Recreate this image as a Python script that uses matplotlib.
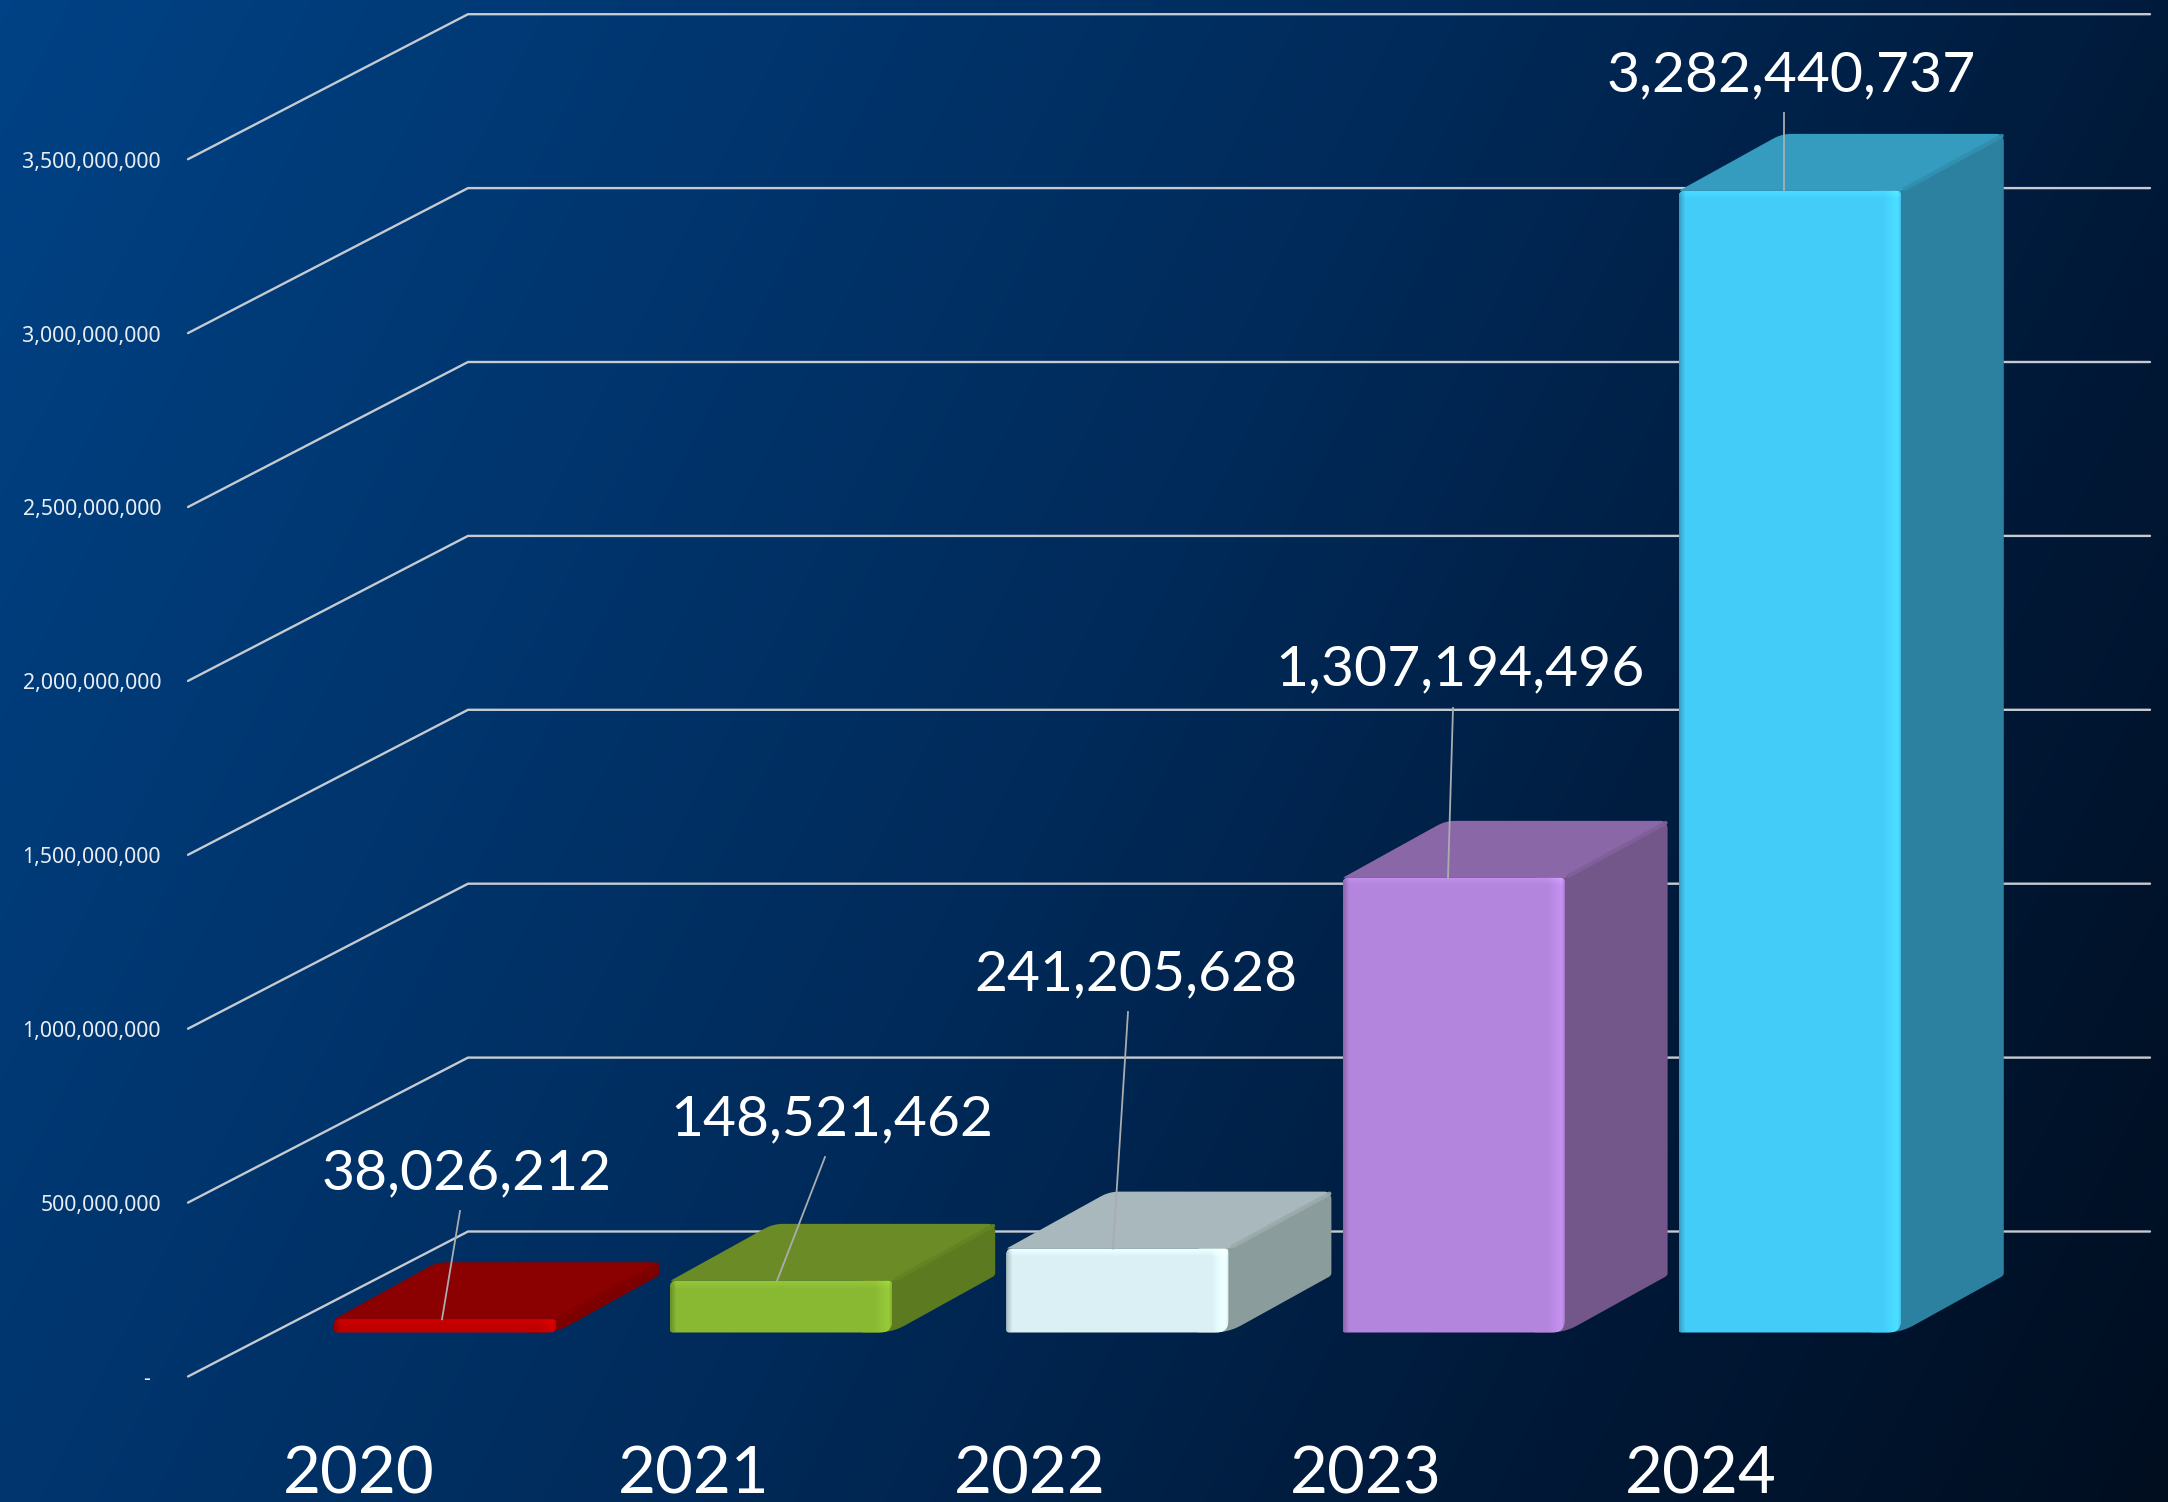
import numpy as np
import matplotlib
matplotlib.use("Agg")
import matplotlib.pyplot as plt
from matplotlib.patches import Polygon
from matplotlib.colors import to_rgb, LinearSegmentedColormap

# ---------- data ----------
years = ["2020", "2021", "2022", "2023", "2024"]
values = [38026212, 148521462, 241205628, 1307194496, 3282440737]
y_ticks = [0, 500000000, 1000000000, 1500000000, 2000000000, 2500000000, 3000000000, 3500000000]
face_colors = ["#c00000", "#8ab933", "#dbf0f5", "#b485dc", "#45ccf8"]
top_colors = ["#8b0000", "#6b8b26", "#a8b8bc", "#8a68a8", "#359cbf"]
side_colors = ["#7c0000", "#5c7a20", "#8b9c9c", "#74578a", "#2c81a0"]

# ---------- layout (pixels of the full figure) ----------
W, H = 2168, 1502
CAT_PX = 336.2          # distance between categories
X0_PX = 445.0           # pixel x of category 0 centre
Y0_PX = 1332.5          # pixel y of value 0 on the bar front plane
VAL_PX = 173.9 / 5e8    # pixels per value unit
BAR_PX = 222.0
DEPTH_X_PX, DEPTH_Y_PX = 103.0, 57.0

def dx(p):
    return p / CAT_PX

def dv(p):
    return p / VAL_PX

def px(xp, yp):
    return (xp - X0_PX) / CAT_PX, (Y0_PX - yp) / VAL_PX

def rounded(points, radii, n=8):
    """Round polygon corners; radii are given in pixels."""
    pts = np.array([[p[0] * CAT_PX, p[1] * VAL_PX] for p in points], float)
    out = []
    m = len(pts)
    for i in range(m):
        p, a, b = pts[i], pts[i - 1], pts[(i + 1) % m]
        r = radii[i]
        if r <= 0:
            out.append(p)
            continue
        la, lb = np.linalg.norm(a - p), np.linalg.norm(b - p)
        r = min(r, la * 0.49, lb * 0.49)
        s, e = p + (a - p) / la * r, p + (b - p) / lb * r
        for t in np.linspace(0, 1, n):
            out.append((1 - t) ** 2 * s + 2 * t * (1 - t) * p + t ** 2 * e)
    out = np.array(out)
    return np.column_stack([out[:, 0] / CAT_PX, out[:, 1] / VAL_PX])

plt.rcParams["font.family"] = ["Lato", "DejaVu Sans"]
fig = plt.figure(figsize=(W / 100, H / 100), dpi=100)

# ---------- background gradient ----------
bg = fig.add_axes([0, 0, 1, 1], zorder=0)
gx, gy = np.meshgrid(np.linspace(0, 1, 600), np.linspace(0, 1, 420))
grad = (gx * 0.85 + gy * 0.30) / 1.15
cmap = LinearSegmentedColormap.from_list(
    "bg", [(0, "#004285"), (0.25, "#00366f"), (0.5, "#002a59"), (0.75, "#001a3a"), (1, "#000e20")])
bg.imshow(grad, cmap=cmap, aspect="auto", vmin=0, vmax=1, interpolation="bilinear")
bg.axis("off")

ax = fig.add_axes([0, 0, 1, 1], zorder=1)
ax.patch.set_alpha(0)
ax.axis("off")

# ---------- walls ----------
front_x, front_v = px(188, 1376.5)
back_x, back_v = px(468, 1231.5)
end_x, _ = px(2150, 0)
grid_col = "#c6cbd1"
for t in y_ticks:
    ax.plot([front_x, back_x, end_x], [t + front_v, t + back_v, t + back_v],
            color=grid_col, lw=1.7, solid_joinstyle="round", solid_capstyle="round", zorder=1)
    label = f"{t:,}" if t else "-"
    tx = front_x - dx(27 if t else 38)
    ax.text(tx, t + front_v - dv(3), label, ha="right", va="center", color="#e8edf3",
            fontsize=15.3, family=["Noto Sans", "DejaVu Sans"], zorder=6)

# ---------- bars ----------
xs = np.arange(len(values))
w = dx(BAR_PX)
ddx, ddv = dx(DEPTH_X_PX), dv(DEPTH_Y_PX)
bars = ax.bar(xs, values, width=w, color=face_colors, linewidth=0, zorder=3)

for i, (b, v) in enumerate(zip(bars, values)):
    x0, x1 = i - w / 2, i + w / 2
    top = Polygon(rounded([(x0, v), (x1, v), (x1 + ddx, v + ddv), (x0 + ddx, v + ddv)], [2, 0, 8, 10]),
                  closed=True, fc=top_colors[i], ec="none", zorder=2.2)
    ax.add_patch(top)
    # side wraps slightly behind the face so the lower corner reads as one smooth curve
    side = Polygon(rounded([(x1 - dx(30), 0), (x1, 0), (x1 + ddx, ddv), (x1 + ddx, v + ddv), (x1 - dx(30), v)],
                           [0, 24, 3, 8, 0]),
                   closed=True, fc=side_colors[i], ec="none", zorder=2.1)
    ax.add_patch(side)
    ridge = np.array(to_rgb(top_colors[i])) * 0.55 + np.array(to_rgb(side_colors[i])) * 0.45
    ax.plot([x1 + dx(4), x1 + ddx - dx(2)], [v + dv(2), v + ddv - dv(2)], color=ridge, lw=3,
            alpha=0.9, solid_capstyle="round", zorder=2.3)

    clip = Polygon(rounded([(x0, 0), (x1, 0), (x1, v), (x0, v)], [3, 12, 4, 6]),
                   closed=True, transform=ax.transData, fc="none", ec="none", zorder=3)
    ax.add_patch(clip)
    b.set_clip_path(clip)
    hpx = max(int(round(v * VAL_PX)), 2)
    wpx = int(BAR_PX)
    xr = np.arange(wpx)
    yr = np.arange(hpx)
    hf = np.ones(wpx)
    hf *= 1 - 0.22 * np.clip(1 - xr / 6.0, 0, 1)
    hf *= 1 + 0.10 * np.clip(1 - (wpx - 1 - xr - 3) / 14.0, 0, 1)
    hf *= 1 - 0.12 * np.clip(1 - (wpx - 1 - xr) / 3.0, 0, 1)
    vf = 1 + 0.08 * np.clip(1 - yr / 8.0, 0, 1)
    col = np.outer(vf, hf)
    rgb = np.clip(np.array(to_rgb(face_colors[i]))[None, None, :] * col[:, :, None], 0, 1)
    im = ax.imshow(rgb, extent=(x0, x1, 0, v), origin="upper", aspect="auto",
                   interpolation="bilinear", zorder=3.1)
    im.set_clip_path(clip)

# ---------- data labels & leader lines ----------
label_px = [(467, 1174), (832, 1120), (1136, 975), (1460, 670), (1791, 76)]
leader_start_px = [(460, 1211), (825, 1157), (1128, 1012), (1453, 708), (1784, 113)]
leader_end_px = [442, 777, 1113, 1448, 1784]
for i, v in enumerate(values):
    lx, ly = px(*label_px[i])
    ax.text(lx, ly, f"{v:,}", ha="center", va="center", color="white", fontsize=41, zorder=7)
    sx, sy = px(*leader_start_px[i])
    ex, _ = px(leader_end_px[i], 0)
    ax.plot([sx, ex], [sy, v], color="#a9acb0", lw=1.3, zorder=5)

# ---------- category labels ----------
for i, y in enumerate(years):
    tx, ty = px(358.5 + 335.6 * i, 1494)
    ax.text(tx, ty, y, ha="center", va="baseline", color="white", fontsize=47, zorder=7)

ax.set_xlim(-X0_PX / CAT_PX, (W - X0_PX) / CAT_PX)
ax.set_ylim(-(H - Y0_PX) / VAL_PX, Y0_PX / VAL_PX)

fig.savefig("out.png", dpi=100)
